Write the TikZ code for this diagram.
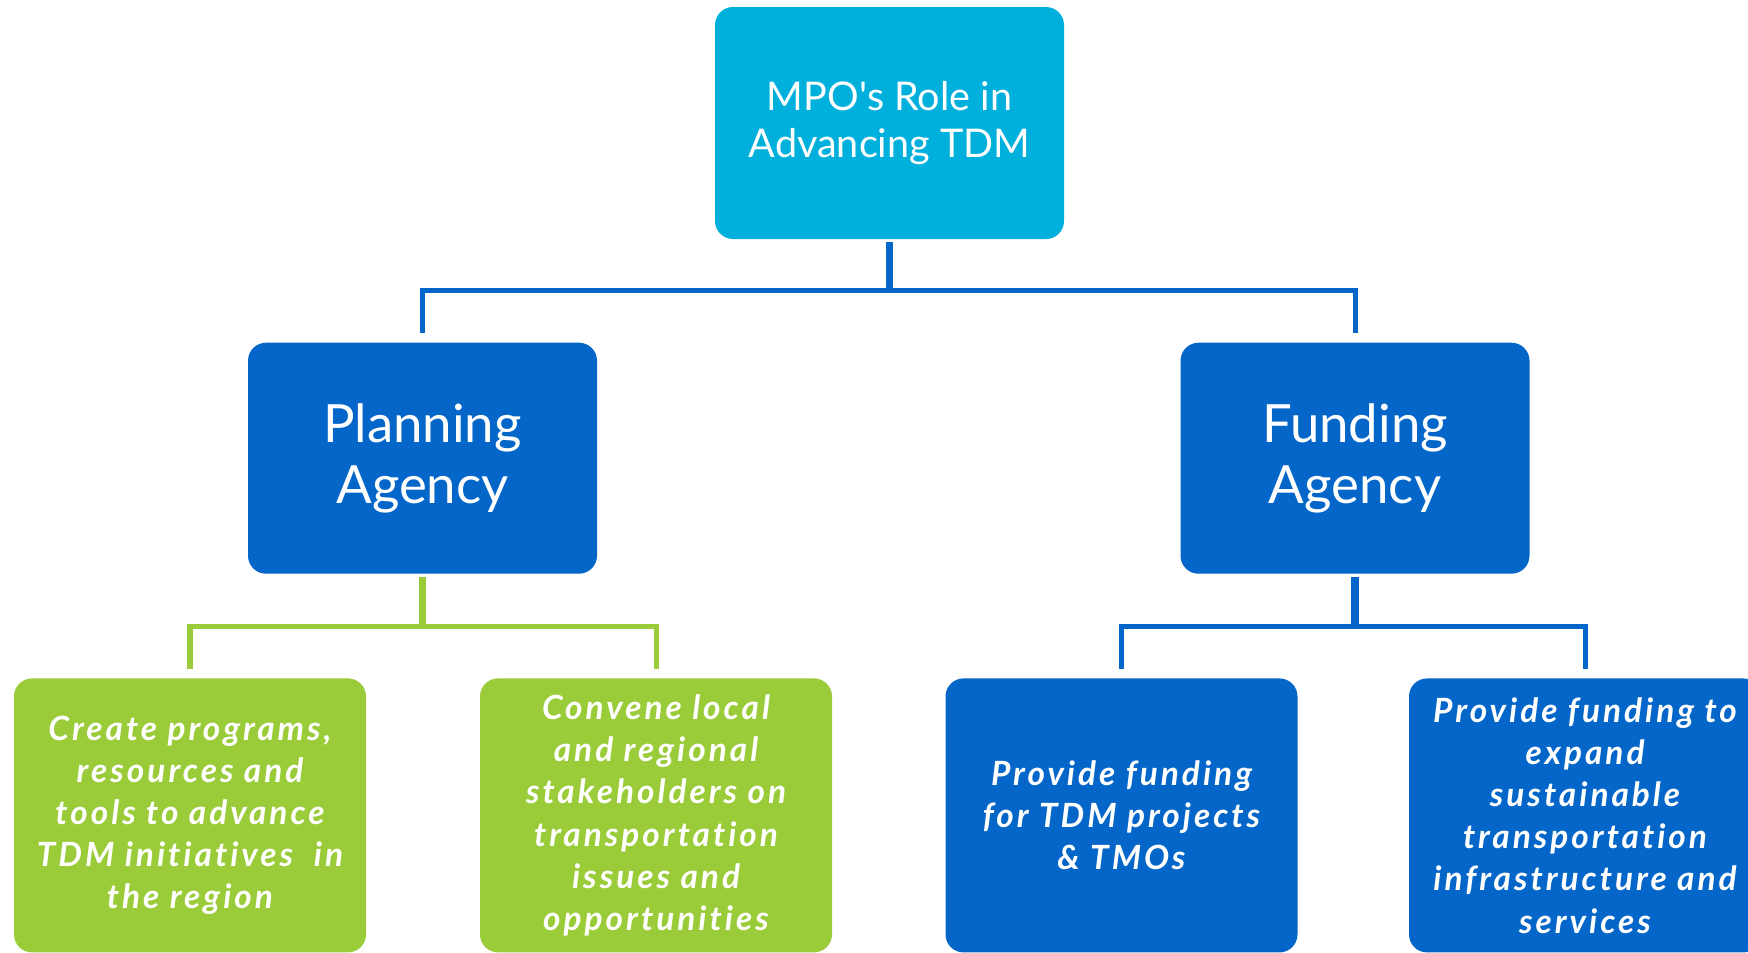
\documentclass[tikz,border=0pt]{standalone}
\usepackage{fontspec}
\setmainfont{Lato}
\newfontfamily\taskfont[LetterSpace=9,Ligatures=NoCommon]{Lato}
\usetikzlibrary{positioning}
\definecolor{rolecyan}{HTML}{00B0DC}
\definecolor{agencyblue}{HTML}{0366C8}
\definecolor{actiongreen}{HTML}{9ACB38}

\begin{document}
\begin{tikzpicture}[
  card/.style={rounded corners=0.36cm,text=white,align=center,inner sep=0pt},
  rolebox/.style={card,fill=rolecyan,minimum width=6.98cm,minimum height=4.64cm,
    font=\fontsize{22.5}{26.7}\selectfont},
  agencybox/.style={card,fill=agencyblue,minimum width=6.98cm,minimum height=4.62cm,
    font=\fontsize{30}{35}\selectfont},
  taskbox/.style={card,fill=#1,minimum width=7.04cm,minimum height=5.48cm,
    font=\taskfont\bfseries\itshape\fontsize{19}{24}\selectfont},
  link/.style={line width=2.85pt,draw=#1,shorten >=0.18cm},
  stub/.style={line width=4.5pt,draw=#1,shorten <=0.06cm}
]
  \useasboundingbox (0,0) rectangle (34.96,-19.04);
  \clip (0,0) rectangle (34.96,-19.04);

  % top of the tree
  \node[rolebox] (mpo) at (17.79,-2.46) {MPO\textquotesingle s Role in\\Advancing TDM};

  % the two agency roles
  \node[agencybox,below=2.06cm of mpo,xshift=-9.34cm] (planning) {Planning\\Agency};
  \node[agencybox,below=2.06cm of mpo,xshift=9.31cm] (funding) {Funding\\Agency};

  % what each role does
  \node[taskbox=actiongreen,below=2.08cm of planning,xshift=-4.65cm] (create)
    {Create programs,\\resources and\\tools to advance\\TDM initiatives\ \ in\\the region};
  \node[taskbox=actiongreen,below=2.08cm of planning,xshift=4.67cm] (convene)
    {Convene local\\and regional\\stakeholders on\\transportation\\issues and\\opportunities};
  \node[taskbox=agencyblue,below=2.08cm of funding,xshift=-4.67cm] (fundtdm)
    {Provide funding\\for TDM projects\\\& TMOs};
  \node[taskbox=agencyblue,below=2.08cm of funding,xshift=4.6cm] (fundinfra)
    {Provide funding to\\expand\\sustainable\\transportation\\infrastructure and\\services};

  % connectors
  \draw[stub=agencyblue] (mpo.south) -- ++(0,-1.03);
  \draw[link=agencyblue] (mpo.south) ++(0,-1.03) -| (planning.north);
  \draw[link=agencyblue] (mpo.south) ++(0,-1.03) -| (funding.north);

  \draw[stub=actiongreen] (planning.south) -- ++(0,-1.04);
  \draw[link=actiongreen] (planning.south) ++(0,-1.04) -| (create.north);
  \draw[link=actiongreen] (planning.south) ++(0,-1.04) -| (convene.north);

  \draw[stub=agencyblue] (funding.south) -- ++(0,-1.04);
  \draw[link=agencyblue] (funding.south) ++(0,-1.04) -| (fundtdm.north);
  \draw[link=agencyblue] (funding.south) ++(0,-1.04) -| (fundinfra.north);
\end{tikzpicture}
\end{document}
